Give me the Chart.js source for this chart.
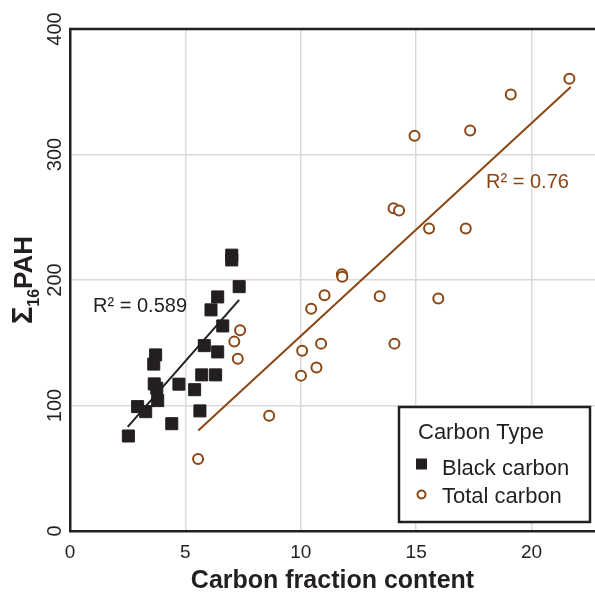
<!DOCTYPE html>
<html>
<head>
<meta charset="utf-8">
<script src="https://cdn.jsdelivr.net/npm/chart.js@4.4.1/dist/chart.umd.min.js"></script>
<style>
  body { margin: 0; background: #fff; }
  #wrap { width: 595px; height: 594px; }
</style>
</head>
<body>
<div id="wrap"><canvas id="chart" width="595" height="594"></canvas></div>
<script>
// Data ---
const blackX = [2.53, 2.93, 3.28, 3.80, 3.65, 3.76, 3.71, 3.63, 4.41, 4.72, 5.40, 5.63, 5.71, 6.31, 5.82, 6.40, 6.62, 6.11, 6.40, 7.33, 7.01, 7.01];
const blackY = [75.7, 99.1, 95.1, 103.9, 117.2, 113.8, 140.3, 133.0, 85.5, 117.0, 112.6, 95.7, 124.4, 124.4, 147.7, 142.7, 163.4, 176.2, 186.5, 194.7, 219.8, 216.0];

const totalX = [5.55, 8.63, 7.37, 7.12, 7.27, 10.01, 10.06, 10.68, 10.88, 10.45, 11.03, 11.78, 11.80, 13.42, 14.06, 14.02, 14.26, 15.56, 17.15, 15.96, 14.93, 17.34, 19.10, 21.64];
const totalY = [57.4, 91.8, 160.0, 150.9, 137.3, 123.8, 143.7, 130.2, 149.3, 177.0, 187.9, 204.6, 202.5, 187.1, 149.3, 257.2, 255.3, 241.1, 241.1, 185.2, 314.9, 319.1, 347.8, 360.3];

// fitted lines (end points)
const blackFitX = [2.5, 7.33];
const blackFitY = [83, 184.2];
const totalFitX = [5.56, 21.7];
const totalFitY = [80, 353.7];

const xTicks = [0, 5, 10, 15, 20];
const yTicks = [0, 100, 200, 300, 400];
const r2Labels = ['R\u00b2 = 0.589', 'R\u00b2 = 0.76'];
const r2At = [[1.0, 178.5], [18.03, 278]];
const seriesNames = ['Black carbon', 'Total carbon'];
const legendTitle = 'Carbon Type';

const BLACK = '#231f20';
const BROWN = '#8b4513';
const FONT = "'Liberation Sans', Arial, sans-serif";

function pts(xs, ys) {
    return xs.map((x, i) => ({x: x, y: ys[i]}));
}

// Plugins ---
const extras = {
    id: 'extras',
    afterDraw(chart) {
        const ctx = chart.ctx;
        const area = chart.chartArea;
        const sx = chart.scales.x, sy = chart.scales.y;
        ctx.save();

        // top frame line
        ctx.strokeStyle = BLACK;
        ctx.lineWidth = 2.5;
        ctx.beginPath();
        ctx.moveTo(area.left - 1, area.top);
        ctx.lineTo(area.right, area.top);
        ctx.stroke();

        // R² labels
        ctx.font = '20px ' + FONT;
        ctx.textBaseline = 'middle';
        ctx.textAlign = 'left';
        [BLACK, BROWN].forEach(function(col, i) {
            ctx.fillStyle = col;
            ctx.fillText(r2Labels[i], sx.getPixelForValue(r2At[i][0]), sy.getPixelForValue(r2At[i][1]));
        });

        // y axis title with subscript
        ctx.fillStyle = BLACK;
        ctx.translate(32, (area.top + area.bottom) / 2);
        ctx.rotate(-Math.PI / 2);
        ctx.textBaseline = 'alphabetic';
        const big = 'bold 26px ' + FONT, small = 'bold 16px ' + FONT;
        ctx.font = 'bold 29px ' + FONT;
        const wS = ctx.measureText('\u03a3').width;
        ctx.font = big;
        const wP = ctx.measureText('PAH').width;
        ctx.font = small;
        const w16 = ctx.measureText('16').width;
        let px = -(wS + w16 + wP) / 2;
        ctx.font = 'bold 29px ' + FONT;
        ctx.fillText('\u03a3', px, 0);
        px += wS;
        ctx.font = small;
        ctx.fillText('16', px, 7);
        px += w16;
        ctx.font = big;
        ctx.fillText('PAH', px, 0);
        ctx.restore();

        // legend box
        ctx.save();
        ctx.fillStyle = '#fff';
        ctx.fillRect(399, 407, 191, 115);
        ctx.strokeStyle = BLACK;
        ctx.lineWidth = 2.5;
        ctx.strokeRect(399, 407, 191, 115);
        ctx.fillStyle = BLACK;
        ctx.font = '22px ' + FONT;
        ctx.textBaseline = 'middle';
        ctx.fillText(legendTitle, 418, 433);
        ctx.fillText(seriesNames[0], 442, 469);
        ctx.fillText(seriesNames[1], 442, 497);
        ctx.fillRect(416, 458.5, 11, 11);
        ctx.strokeStyle = BROWN;
        ctx.lineWidth = 2;
        ctx.beginPath();
        ctx.arc(421.5, 494.5, 4, 0, Math.PI * 2);
        ctx.stroke();
        ctx.restore();
    }
};

new Chart(document.getElementById('chart'), {
    type: 'scatter',
    data: {
        datasets: [{
            label: seriesNames[0],
            data: pts(blackX, blackY),
            pointStyle: 'rect',
            pointRadius: 8.5,
            pointBackgroundColor: BLACK,
            pointBorderColor: BLACK,
            pointBorderWidth: 1
        }, {
            label: seriesNames[1],
            data: pts(totalX, totalY),
            pointStyle: 'circle',
            pointRadius: 5,
            pointBackgroundColor: '#fff',
            pointBorderColor: BROWN,
            pointBorderWidth: 2
        }, {
            type: 'line',
            label: 'black fit',
            data: pts(blackFitX, blackFitY),
            borderColor: BLACK,
            borderWidth: 2,
            pointRadius: 0
        }, {
            type: 'line',
            label: 'total fit',
            data: pts(totalFitX, totalFitY),
            borderColor: BROWN,
            borderWidth: 2,
            pointRadius: 0
        }]
    },
    options: {
        responsive: false,
        animation: false,
        layout: { autoPadding: false, padding: { top: 29, right: 0, left: 0, bottom: 0 } },
        plugins: {
            legend: { display: false },
            tooltip: { enabled: false }
        },
        scales: {
            x: {
                type: 'linear',
                min: 0,
                max: 22.75,
                afterBuildTicks: function(scale) {
                    scale.ticks = xTicks.map(v => ({value: v}));
                },
                afterFit: function(scale) {
                    scale.height = 63;
                    scale.paddingLeft = 0;
                    scale.paddingRight = 0;
                },
                grid: { color: '#d9d9d9', lineWidth: 1.5, drawTicks: false },
                border: { color: BLACK, width: 2.5 },
                ticks: { font: { size: 19, family: FONT }, color: BLACK, padding: 10 },
                title: {
                    display: true,
                    text: 'Carbon fraction content',
                    color: BLACK,
                    font: { size: 25, weight: 'bold', family: FONT, lineHeight: 1 },
                    padding: { top: 0, bottom: 0 }
                }
            },
            y: {
                type: 'linear',
                min: 0,
                max: 400,
                afterBuildTicks: function(scale) {
                    scale.ticks = yTicks.map(v => ({value: v}));
                },
                afterFit: function(scale) { scale.width = 70; },
                grid: { color: '#d9d9d9', lineWidth: 1.5, drawTicks: false },
                border: { color: BLACK, width: 2.5 },
                ticks: {
                    font: { size: 20, family: FONT },
                    color: BLACK,
                    minRotation: 90,
                    maxRotation: 90,
                    crossAlign: 'center',
                    padding: -2
                }
            }
        }
    },
    plugins: [extras]
});
</script>
</body>
</html>
